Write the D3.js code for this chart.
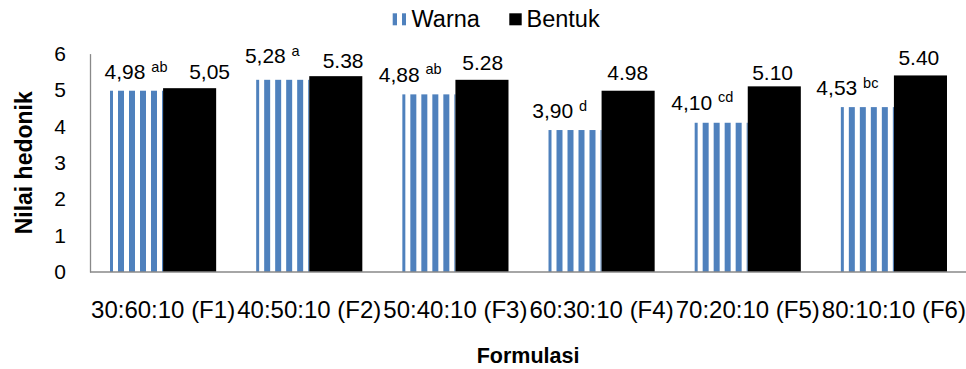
<!DOCTYPE html>
<html>
<head>
<meta charset="utf-8">
<script src="https://cdn.jsdelivr.net/npm/d3@7/dist/d3.min.js"></script>
<style>
  html, body { margin: 0; padding: 0; background: #fff; }
  svg { display: block; font-family: "Liberation Sans", Arial, sans-serif; }
</style>
</head>
<body>
<svg id="chart" width="966" height="369"></svg>
<script>
// Formulations on the x axis
const categories = ["30:60:10 (F1)", "40:50:10 (F2)", "50:40:10 (F3)", "60:30:10 (F4)", "70:20:10 (F5)", "80:10:10 (F6)"];
const seriesNames = ["Warna", "Bentuk"];

// Mean hedonic scores
const warnaValues = [4.98, 5.28, 4.88, 3.90, 4.10, 4.53];
const warnaLetters = ["ab", "a", "ab", "d", "cd", "bc"];
const bentukValues = [5.05, 5.38, 5.28, 4.98, 5.10, 5.40];
const bentukSeparators = [",", ".", ".", ".", ".", "."];

const yTicks = [0, 1, 2, 3, 4, 5, 6];

// Value label placement: horizontal nudge from the bar centre and gap above the bar top (px)
const warnaLabelDx = [-0.5, -10.4, -18.7, -15.4, -19, -20];
const warnaLabelGap = [11.4, 16.5, 12.6, 11.7, 12.8, 12];
const bentukLabelDx = [20, 7.3, 0.8, -0.4, -1.7, -1.6];
const bentukLabelGap = [9, 8, 9.8, 10.7, 6.4, 10.4];

const BLUE = "#4F81BD";
const AXIS = "#898989";

const svg = d3.select("#chart");

const plot = { left: 90, right: 967, top: 53.6, bottom: 272 };

const x = d3.scaleBand().domain(categories).range([plot.left, plot.right]).paddingInner(0).paddingOuter(0);
const xs = d3.scaleBand().domain(seriesNames).range([0, x.bandwidth()]).paddingInner(0).paddingOuter(0.377);
const y = d3.scaleLinear().domain([0, 6]).range([plot.bottom, plot.top]);

// Vertical stripe fill for Warna
const defs = svg.append("defs");
const pat = defs.append("pattern")
  .attr("id", "stripes")
  .attr("patternUnits", "userSpaceOnUse")
  .attr("x", 6).attr("y", 0)
  .attr("width", 11).attr("height", 10);
pat.append("rect").attr("x", 0).attr("y", 0).attr("width", 11).attr("height", 10).attr("fill", "#fff");
pat.append("rect").attr("x", 0).attr("y", 0).attr("width", 6).attr("height", 10).attr("fill", BLUE);

// Y axis (line and labels, no ticks)
const yAxis = d3.axisLeft(y).tickValues(yTicks).tickSize(0).tickPadding(24).tickFormat(d3.format("d"));
const gy = svg.append("g").attr("transform", `translate(${plot.left},0)`).call(yAxis);
gy.select(".domain").attr("stroke", AXIS).attr("stroke-width", 1.3);
gy.selectAll("text").attr("font-size", 21).attr("fill", "#000").attr("font-family", "Liberation Sans, Arial, sans-serif");

// Bars
const groups = svg.append("g").selectAll("g").data(categories).join("g")
  .attr("transform", d => `translate(${x(d)},0)`);

groups.append("rect")
  .attr("x", xs("Warna"))
  .attr("width", xs.bandwidth())
  .attr("y", (d, i) => y(warnaValues[i]))
  .attr("height", (d, i) => y(0) - y(warnaValues[i]))
  .attr("fill", "url(#stripes)");

groups.append("rect")
  .attr("x", xs("Bentuk"))
  .attr("width", xs.bandwidth())
  .attr("y", (d, i) => y(bentukValues[i]))
  .attr("height", (d, i) => y(0) - y(bentukValues[i]))
  .attr("fill", "#000");

// X axis (line and category labels)
const xAxis = d3.axisBottom(x).tickSize(0);
const gx = svg.append("g").attr("transform", `translate(0,${plot.bottom})`).call(xAxis);
gx.select(".domain").attr("stroke", AXIS).attr("stroke-width", 1.6).attr("d", `M${plot.left},0H966`);
gx.selectAll("text").attr("font-size", 24).attr("fill", "#000").attr("font-family", "Liberation Sans, Arial, sans-serif")
  .attr("dy", 0).attr("y", 46);

// Value labels, drawn above all bars
const labels = svg.append("g").selectAll("g").data(categories).join("g")
  .attr("transform", d => `translate(${x(d)},0)`);

const fmtComma = v => v.toFixed(2).replace(".", ",");

const wl = labels.append("text")
  .attr("text-anchor", "middle")
  .attr("font-size", 21)
  .attr("x", (d, i) => xs("Warna") + xs.bandwidth() / 2 + warnaLabelDx[i])
  .attr("y", (d, i) => y(warnaValues[i]) - warnaLabelGap[i]);
wl.append("tspan").text((d, i) => fmtComma(warnaValues[i]) + " ");
wl.append("tspan").attr("font-size", 14.5).attr("dy", -7.6).text((d, i) => warnaLetters[i]);

labels.append("text")
  .attr("text-anchor", "middle")
  .attr("font-size", 21)
  .attr("x", (d, i) => xs("Bentuk") + xs.bandwidth() / 2 + bentukLabelDx[i])
  .attr("y", (d, i) => y(bentukValues[i]) - bentukLabelGap[i])
  .text((d, i) => bentukValues[i].toFixed(2).replace(".", bentukSeparators[i]));

// Axis titles
svg.append("text")
  .attr("x", (plot.left + 966) / 2).attr("y", 363)
  .attr("text-anchor", "middle")
  .attr("font-size", 21.5).attr("font-weight", "bold")
  .text("Formulasi");

svg.append("text")
  .attr("transform", `translate(32,${(plot.top + plot.bottom) / 2}) rotate(-90)`)
  .attr("text-anchor", "middle")
  .attr("font-size", 23).attr("font-weight", "bold")
  .text("Nilai hedonik");

// Legend
const legend = svg.append("g");
legend.append("rect").attr("x", 392.7).attr("y", 13.3).attr("width", 13.3).attr("height", 12).attr("fill", "url(#stripes)");
legend.append("text").attr("x", 411.5).attr("y", 26.5).attr("font-size", 23.5).text(seriesNames[0]);
legend.append("rect").attr("x", 509.3).attr("y", 13.3).attr("width", 12.4).attr("height", 12).attr("fill", "#000");
legend.append("text").attr("x", 526.5).attr("y", 26.5).attr("font-size", 23.5).text(seriesNames[1]);
</script>
</body>
</html>
